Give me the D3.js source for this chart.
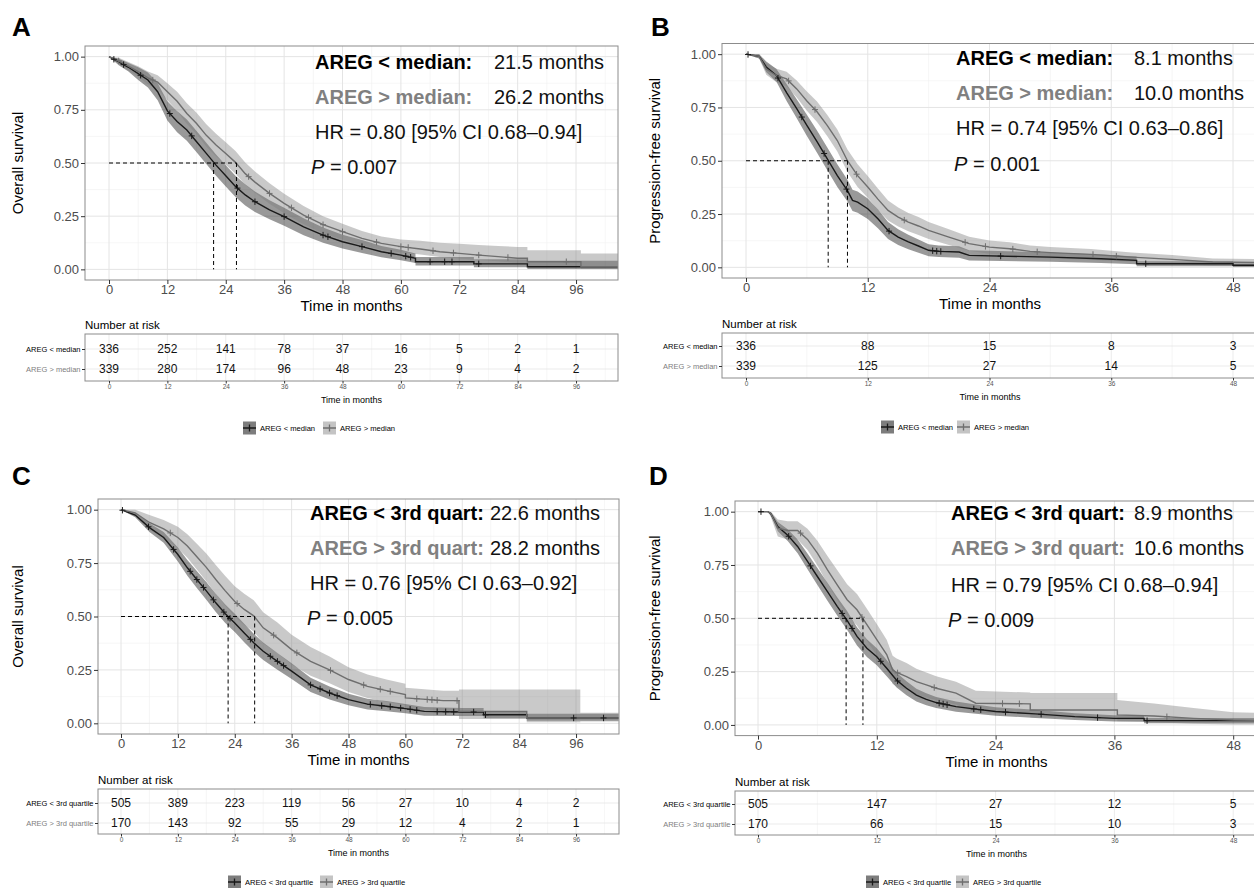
<!DOCTYPE html>
<html>
<head>
<meta charset="utf-8">
<script src="https://cdn.jsdelivr.net/npm/d3@7"></script>
<style>
  body { margin: 0; background: #fff; }
  svg text { font-family: "Liberation Sans", Arial, Helvetica, sans-serif; }
</style>
</head>
<body>
<svg id="fig" width="1254" height="888"></svg>
<script>
// ---- shared ticks / labels ----
const xTicksOS = [0, 12, 24, 36, 48, 60, 72, 84, 96];
const xTicksPFS = [0, 12, 24, 36, 48];
const yTicks = [0, 0.25, 0.5, 0.75, 1];
const legendMed = ['AREG < median', 'AREG > median'];
const legendQ3 = ['AREG < 3rd quartile', 'AREG > 3rd quartile'];

// ---- Panel A: overall survival, median split ----
const tA1  = [0, 2, 4, 6, 8, 10, 12, 14, 16, 18, 20, 22, 24, 26, 28, 30, 33, 36, 40, 44, 48, 52, 56, 60, 63, 63, 75, 75, 86, 86, 105];
const sA1  = [1, .975, .95, .92, .89, .835, .745, .695, .655, .60, .545, .49, .44, .39, .35, .318, .28, .248, .20, .161, .13, .107, .083, .067, .052, .036, .036, .026, .026, .0125, .0125];
const loA1 = [1, .96, .93, .89, .855, .795, .70, .645, .605, .55, .495, .44, .39, .34, .30, .27, .235, .205, .16, .125, .098, .077, .057, .043, .03, .018, .018, .01, .01, .002, .002];
const hiA1 = [1, .99, .97, .95, .925, .875, .79, .745, .705, .65, .595, .54, .49, .44, .40, .366, .325, .29, .24, .197, .163, .138, .11, .092, .075, .058, .058, .048, .048, .04, .04];
const cA1  = [1, 3, 6.5, 12.5, 17, 26.4, 30, 36, 44, 45, 52, 58, 61, 62, 66, 69, 70.5, 76];
const tA2  = [0, 2, 4, 6, 8, 10, 12, 14, 16, 18, 20, 22, 24, 26, 28, 30, 33, 36, 40, 44, 48, 52, 56, 60, 64, 68, 72, 76, 80, 84, 86, 86, 97, 97, 105];
const sA2  = [1, .98, .955, .93, .90, .88, .835, .79, .733, .686, .63, .585, .545, .503, .45, .41, .357, .31, .255, .21, .177, .146, .122, .107, .096, .083, .075, .067, .06, .052, .052, .036, .036, .012, .012];
const loA2 = [1, .965, .935, .905, .87, .847, .795, .745, .685, .636, .578, .532, .492, .45, .398, .36, .309, .264, .212, .17, .14, .113, .092, .079, .07, .058, .051, .044, .038, .031, .031, .015, .015, .002, .002];
const hiA2 = [1, .995, .975, .955, .93, .913, .875, .835, .781, .736, .682, .638, .598, .556, .502, .46, .405, .356, .298, .25, .214, .18, .155, .14, .135, .125, .12, .115, .11, .105, .105, .09, .09, .075, .075];
const cA2  = [2, 9, 28.7, 33, 37.5, 41, 44, 48, 55, 60, 61.5, 66.6, 70.8, 76, 82, 94];
const medA = [21.5, 26.2];
const riskA1 = [336, 252, 141, 78, 37, 16, 5, 2, 1];
const riskA2 = [339, 280, 174, 96, 48, 23, 9, 4, 2];

// ---- Panel B: progression-free survival, median split ----
const tB1  = [0, 1.3, 2, 3, 4, 5, 6, 7, 8, 9, 10, 10.5, 11, 12, 13, 14, 15, 16, 17, 18, 19, 21, 22, 30, 35, 38.5, 38.5, 48, 48, 52];
const sB1  = [1, .99, .94, .90, .82, .744, .666, .59, .51, .43, .36, .314, .306, .275, .228, .173, .142, .119, .10, .08, .075, .072, .056, .048, .04, .033, .017, .017, .01, .01];
const loB1 = [1, .98, .915, .87, .78, .699, .616, .538, .457, .377, .309, .264, .256, .227, .183, .133, .105, .085, .069, .052, .048, .045, .032, .026, .02, .015, .005, .005, .002, .002];
const hiB1 = [1, 1, .965, .93, .86, .789, .716, .642, .563, .483, .411, .364, .356, .323, .273, .213, .179, .153, .131, .108, .102, .099, .08, .07, .06, .051, .029, .029, .018, .018];
const cB1  = [0.2, 3.15, 5.5, 7.7, 9.9, 14.1, 18.4, 18.8, 19.2, 25.1, 39.4];
const tB2  = [0, 1.3, 2, 3, 4, 5, 6, 7, 8, 9, 10, 11, 12, 13, 14, 15, 16, 17, 18, 20, 22, 24, 26, 28, 30, 34, 38, 42, 46, 52];
const sB2  = [1, .99, .93, .90, .884, .837, .78, .73, .666, .595, .50, .43, .377, .32, .267, .236, .212, .194, .173, .142, .111, .095, .0875, .075, .069, .061, .048, .0375, .025, .022];
const loB2 = [1, .98, .903, .868, .85, .797, .735, .682, .616, .543, .447, .377, .326, .27, .22, .191, .169, .152, .133, .105, .078, .064, .0575, .047, .042, .036, .026, .0175, .008, .007];
const hiB2 = [1, 1, .957, .932, .918, .877, .825, .778, .716, .647, .553, .483, .428, .37, .314, .281, .255, .236, .213, .179, .144, .126, .1175, .103, .096, .086, .07, .0575, .042, .037];
const cB2  = [4.2, 6.8, 10.9, 15.6, 21.6, 23.6, 26.3, 28.7, 34.2, 36.5];
const medB = [8.1, 10.0];
const riskB1 = [336, 88, 15, 8, 3];
const riskB2 = [339, 125, 27, 14, 5];

// ---- Panel C: overall survival, 3rd quartile split ----
const tC1  = [0, 3, 6, 9, 12, 14, 16, 18, 20, 22, 24, 26, 28, 30, 33, 36, 40, 44, 48, 52, 56, 60, 64, 72, 76.5, 76.5, 85.6, 85.6, 105];
const sC1  = [1, .975, .916, .87, .79, .728, .673, .62, .564, .513, .47, .423, .377, .3375, .29, .244, .18, .142, .111, .09, .08, .069, .056, .053, .053, .04, .04, .025, .025];
const loC1 = [1, .965, .896, .845, .757, .691, .633, .578, .521, .47, .427, .38, .335, .2965, .251, .207, .147, .112, .084, .065, .056, .047, .036, .034, .034, .024, .024, .012, .012];
const hiC1 = [1, .985, .936, .895, .823, .765, .713, .662, .607, .556, .513, .466, .419, .3785, .329, .281, .213, .172, .138, .115, .104, .091, .076, .072, .072, .056, .056, .045, .045];
const cC1  = [0.3, 5.8, 11.1, 14.6, 16, 17.4, 19.5, 21.7, 23, 27.3, 31.5, 33, 34.3, 40, 42, 44, 45.6, 52.6, 55, 56.8, 59, 61, 62.4, 66.7, 68.5, 70.2, 74.4, 76.9, 95.5, 101.8];
const tC2  = [0, 3, 6, 9, 12, 14, 16, 18, 20, 22, 24, 26, 28, 30, 33, 36, 40, 44, 48, 52, 56, 60, 60, 68, 71.3, 71.3, 85.6, 85.6, 96.9, 96.9, 105];
const sC2  = [1, .985, .94, .91, .87, .83, .78, .73, .673, .62, .57, .533, .503, .447, .40, .345, .29, .25, .205, .173, .153, .135, .119, .106, .106, .056, .056, .025, .025, .025, .025];
const loC2 = [1, .97, .905, .868, .82, .775, .72, .665, .605, .55, .498, .46, .43, .374, .328, .275, .223, .187, .147, .118, .101, .085, .071, .06, .06, .02, .02, .005, .005, .008, .008];
const hiC2 = [1, 1, .975, .952, .92, .885, .84, .795, .741, .69, .642, .606, .576, .52, .472, .415, .357, .313, .263, .228, .205, .185, .167, .152, .152, .158, .158, .158, .158, .05, .05];
const cC2  = [10.4, 24.5, 32.2, 37.1, 44.2, 51.2, 54.7, 56.8, 62.4, 64.6, 65.6, 66.7, 70.9];
const medC = [22.6, 28.2];
const riskC1 = [505, 389, 223, 119, 56, 27, 10, 4, 2];
const riskC2 = [170, 143, 92, 55, 29, 12, 4, 2, 1];

// ---- Panel D: progression-free survival, 3rd quartile split ----
const tD1  = [0, 1, 1.3, 2, 3, 4, 5, 6, 7, 8, 9, 10, 11, 12, 13, 14, 15, 16, 17, 18, 20, 22, 24, 28, 32, 36, 39, 39, 52];
const sD1  = [1, 1, .99, .93, .89, .837, .767, .696, .626, .556, .49, .415, .36, .32, .266, .21, .172, .14, .12, .105, .086, .074, .063, .052, .039, .031, .031, .02, .02];
const loD1 = [1, 1, .982, .908, .863, .805, .73, .656, .584, .513, .446, .372, .318, .28, .228, .175, .139, .11, .092, .079, .062, .052, .043, .033, .023, .016, .016, .008, .008];
const hiD1 = [1, 1, .998, .952, .917, .869, .804, .736, .668, .599, .534, .458, .402, .36, .304, .245, .205, .17, .148, .131, .11, .096, .083, .071, .055, .046, .046, .032, .032];
const cD1  = [0.3, 3.1, 5.3, 8.5, 9.5, 12.4, 14.1, 18.3, 18.7, 19.1, 21.8, 22.5, 25, 28.6, 34.3, 39.3];
const tD2  = [0, 1, 1.3, 2, 3, 4, 5, 6, 7, 8, 9, 10, 11, 12, 13, 13.6, 14, 15, 16, 17, 18, 20, 22, 27.5, 27.5, 36.3, 36.3, 40, 44, 48, 52];
const sD2  = [1, 1, .99, .923, .912, .912, .87, .806, .728, .657, .587, .54, .47, .40, .33, .258, .246, .227, .203, .188, .172, .149, .102, .099, .07, .07, .047, .042, .031, .023, .02];
const loD2 = [1, 1, .975, .883, .869, .869, .82, .748, .663, .587, .514, .466, .395, .327, .26, .192, .181, .164, .143, .13, .116, .096, .057, .054, .035, .035, .017, .013, .006, .002, .002];
const hiD2 = [1, 1, 1, .963, .955, .955, .92, .864, .793, .727, .66, .614, .545, .473, .40, .324, .311, .29, .263, .246, .228, .202, .16, .152, .15, .15, .117, .1, .08, .06, .055];
const cD2  = [4.3, 10.5, 14.1, 17.8, 24.7, 26.4, 41.3];
const medD = [8.9, 10.6];
const riskD1 = [505, 147, 27, 12, 5];
const riskD2 = [170, 66, 15, 10, 3];

const fig = d3.select('#fig');
fig.append('rect').attr('width', 1254).attr('height', 888).attr('fill', '#fff');

const LINE = ['#1a1a1a', '#6e6e6e'];
const BAND = [{ fill: '#000', op: 0.4 }, { fill: '#7f7f7f', op: 0.42 }];
const KEY = ['#7d7d7d', '#c4c4c4'];

function survAt(t, s, c) {
  // value on the drawn polyline at time c
  const i = Math.max(0, d3.bisectRight(t, c) - 1);
  if (i >= t.length - 1 || t[i + 1] === t[i]) return s[i];
  const f = (c - t[i]) / (t[i + 1] - t[i]);
  return s[i] + f * (s[i + 1] - s[i]);
}

function drawPanel(p) {
  const g = fig.append('g');
  const x = d3.scaleLinear()
    .domain([(p.left - p.x0) / p.kx, (p.right - p.x0) / p.kx])
    .range([p.left, p.right]);
  const y = d3.scaleLinear().domain([-0.05, 1.05]).range([p.bottom, p.top]);
  const step = p.xTicks[1] - p.xTicks[0];
  const minorX = d3.range(step / 2, x.domain()[1], step);
  const minorY = [0.125, 0.375, 0.625, 0.875];

  g.append('text')
    .attr('x', p.letterX).attr('y', p.letterY)
    .attr('font-size', 26).attr('font-weight', 'bold')
    .text(p.letter);

  const clipId = 'clip' + p.letter;
  g.append('clipPath').attr('id', clipId)
    .append('rect')
      .attr('x', p.left).attr('y', p.top)
      .attr('width', p.right - p.left).attr('height', p.bottom - p.top);

  // grid
  const grid = g.append('g');
  grid.selectAll('.mx').data(minorX).join('line')
    .attr('x1', d => x(d)).attr('x2', d => x(d))
    .attr('y1', p.top).attr('y2', p.bottom)
    .attr('stroke', '#f0f0f0').attr('stroke-width', 0.6);
  grid.selectAll('.my').data(minorY).join('line')
    .attr('x1', p.left).attr('x2', p.right)
    .attr('y1', d => y(d)).attr('y2', d => y(d))
    .attr('stroke', '#f0f0f0').attr('stroke-width', 0.6);
  grid.selectAll('.Mx').data(p.xTicks).join('line')
    .attr('x1', d => x(d)).attr('x2', d => x(d))
    .attr('y1', p.top).attr('y2', p.bottom)
    .attr('stroke', '#e4e4e4').attr('stroke-width', 1);
  grid.selectAll('.My').data(yTicks).join('line')
    .attr('x1', p.left).attr('x2', p.right)
    .attr('y1', d => y(d)).attr('y2', d => y(d))
    .attr('stroke', '#e4e4e4').attr('stroke-width', 1);

  const plot = g.append('g').attr('clip-path', `url(#${clipId})`);
  const pts = p.groups.map(gr => gr.t.map((t, i) => ({ t, s: gr.s[i], lo: gr.lo[i], hi: gr.hi[i] })));

  const area = d3.area().x(d => x(d.t)).y0(d => y(d.lo)).y1(d => y(d.hi));
  const line = d3.line().x(d => x(d.t)).y(d => y(d.s));

  plot.selectAll('.band').data(pts).join('path')
    .attr('d', area)
    .attr('fill', (d, i) => BAND[i].fill)
    .attr('fill-opacity', (d, i) => BAND[i].op);

  plot.selectAll('.curve').data(pts).join('path')
    .attr('d', line)
    .attr('fill', 'none')
    .attr('stroke', (d, i) => LINE[i])
    .attr('stroke-width', 1.4);

  p.groups.forEach((gr, gi) => {
    plot.append('g').selectAll('path').data(gr.cens).join('path')
      .attr('d', c => {
        const cx = x(c), cy = y(survAt(gr.t, gr.s, c));
        return `M${cx - 3},${cy}H${cx + 3}M${cx},${cy - 3.2}V${cy + 3.2}`;
      })
      .attr('stroke', LINE[gi]).attr('stroke-width', 1);
  });

  // median lines
  const medMax = d3.max(p.medians);
  const dash = g.append('g').attr('stroke', '#000').attr('stroke-width', 1)
    .attr('stroke-dasharray', '4,3').attr('fill', 'none');
  dash.append('line')
    .attr('x1', x(0)).attr('x2', x(medMax))
    .attr('y1', y(0.5)).attr('y2', y(0.5));
  dash.selectAll('.v').data(p.medians).join('line')
    .attr('x1', d => x(d)).attr('x2', d => x(d))
    .attr('y1', y(0.5)).attr('y2', y(0));

  g.append('rect')
    .attr('x', p.left).attr('y', p.top)
    .attr('width', p.right - p.left).attr('height', p.bottom - p.top)
    .attr('fill', 'none').attr('stroke', '#8c8c8c').attr('stroke-width', 1);

  // axes
  const ax = g.append('g').attr('transform', `translate(0,${p.bottom})`)
    .call(d3.axisBottom(x).tickValues(p.xTicks).tickSize(4).tickPadding(1));
  const ay = g.append('g').attr('transform', `translate(${p.left},0)`)
    .call(d3.axisLeft(y).tickValues(yTicks).tickFormat(d3.format('.2f')).tickSize(4).tickPadding(2));
  [ax, ay].forEach(a => {
    a.select('.domain').remove();
    a.selectAll('line').attr('stroke', '#333');
    a.selectAll('text').attr('fill', '#4d4d4d').attr('font-size', 13)
      .style('font-family', '"Liberation Sans", Arial, sans-serif');
  });

  g.append('text')
    .attr('x', (p.left + p.right) / 2).attr('y', p.bottom + 31)
    .attr('text-anchor', 'middle').attr('font-size', 15)
    .text('Time in months');
  g.append('text')
    .attr('transform', `translate(${p.yTitleX},${(p.top + p.bottom) / 2}) rotate(-90)`)
    .attr('text-anchor', 'middle').attr('dy', '0.35em').attr('font-size', 15)
    .text(p.yTitle);

  // annotation
  const ann = g.append('g').attr('font-size', 20);
  p.annLabels.forEach((lab, i) => {
    ann.append('text')
      .attr('x', p.annX).attr('y', p.annY[i] + 7)
      .attr('font-weight', 'bold').attr('fill', i === 0 ? '#000' : '#808080')
      .text(lab);
    ann.append('text')
      .attr('x', p.valX).attr('y', p.annY[i] + 7)
      .attr('fill', '#111')
      .text(p.medians[i].toFixed(1) + ' months');
  });
  ann.append('text')
    .attr('x', p.annX).attr('y', p.annY[2] + 7).attr('fill', '#111')
    .text(p.hr);
  const pt = ann.append('text')
    .attr('x', p.pX).attr('y', p.annY[3] + 7).attr('fill', '#111');
  pt.append('tspan').attr('font-style', 'italic').text('P');
  pt.append('tspan').text(' = ' + p.pval);

  // number at risk table
  const tb = p.table;
  const ty = d3.scalePoint().domain(p.legend).range(tb.rows);
  g.append('text')
    .attr('x', p.left).attr('y', tb.top - 5)
    .attr('font-size', 11.5).text('Number at risk');
  const tg = g.append('g');
  tg.selectAll('.tmx').data(minorX).join('line')
    .attr('x1', d => x(d)).attr('x2', d => x(d))
    .attr('y1', tb.top).attr('y2', tb.bottom)
    .attr('stroke', '#f0f0f0').attr('stroke-width', 0.6);
  tg.selectAll('.tMx').data(p.xTicks).join('line')
    .attr('x1', d => x(d)).attr('x2', d => x(d))
    .attr('y1', tb.top).attr('y2', tb.bottom)
    .attr('stroke', '#e6e6e6').attr('stroke-width', 0.8);
  tg.selectAll('.tMy').data(p.legend).join('line')
    .attr('x1', p.left).attr('x2', p.right)
    .attr('y1', d => ty(d)).attr('y2', d => ty(d))
    .attr('stroke', '#e6e6e6').attr('stroke-width', 0.8);
  tg.append('rect')
    .attr('x', p.left).attr('y', tb.top)
    .attr('width', p.right - p.left).attr('height', tb.bottom - tb.top)
    .attr('fill', 'none').attr('stroke', '#8c8c8c').attr('stroke-width', 1);

  p.risk.forEach((row, ri) => {
    tg.append('g').selectAll('text').data(row).join('text')
      .attr('x', (d, i) => x(p.xTicks[i]))
      .attr('y', ty(p.legend[ri]) + 4.3)
      .attr('text-anchor', 'middle').attr('font-size', 12).attr('fill', '#111')
      .text(d => d);
  });

  const tax = tg.append('g').attr('transform', `translate(0,${tb.bottom})`)
    .call(d3.axisBottom(x).tickValues(p.xTicks).tickSize(2.5).tickPadding(1));
  const tay = tg.append('g').attr('transform', `translate(${p.left},0)`)
    .call(d3.axisLeft(ty).tickSize(3).tickPadding(1.5));
  [tax, tay].forEach(a => {
    a.select('.domain').remove();
    a.selectAll('line').attr('stroke', '#333');
    a.selectAll('text').style('font-family', '"Liberation Sans", Arial, sans-serif');
  });
  tax.selectAll('text').attr('font-size', 6.5).attr('fill', '#555');
  tay.selectAll('text').attr('font-size', 7.5)
    .attr('fill', (d, i) => i === 0 ? '#000' : '#808080');
  tg.append('text')
    .attr('x', (p.left + p.right) / 2).attr('y', tb.bottom + 21.5)
    .attr('text-anchor', 'middle').attr('font-size', 9)
    .text('Time in months');

  // legend
  const lg = g.append('g');
  p.legend.forEach((lab, i) => {
    const kx = tb.keys[i], ky = tb.legendY;
    lg.append('rect').attr('x', kx).attr('y', ky - 6.5).attr('width', 13).attr('height', 13)
      .attr('fill', KEY[i]);
    lg.append('path')
      .attr('d', `M${kx},${ky}H${kx + 13}M${kx + 6.5},${ky - 3.5}V${ky + 3.5}`)
      .attr('stroke', LINE[i]).attr('stroke-width', 1.3);
    lg.append('text').attr('x', kx + 17).attr('y', ky + 2.7)
      .attr('font-size', 7.6).text(lab);
  });
}

drawPanel({
  letter: 'A', letterX: 12, letterY: 36,
  left: 85, right: 618, top: 46, bottom: 280, x0: 109, kx: 4.865,
  xTicks: xTicksOS, yTitle: 'Overall survival', yTitleX: 18,
  groups: [
    { t: tA1, s: sA1, lo: loA1, hi: hiA1, cens: cA1 },
    { t: tA2, s: sA2, lo: loA2, hi: hiA2, cens: cA2 }
  ],
  medians: medA,
  annLabels: ['AREG < median:', 'AREG > median:'],
  hr: 'HR = 0.80 [95% CI 0.68\u20130.94]', pval: '0.007',
  annX: 315, valX: 494, pX: 311, annY: [62, 97, 132, 167],
  legend: legendMed, risk: [riskA1, riskA2],
  table: { top: 334, bottom: 381, rows: [349, 369], legendY: 428, keys: [243, 323] }
});

drawPanel({
  letter: 'B', letterX: 651, letterY: 36,
  left: 722, right: 1258, top: 43.5, bottom: 278, x0: 746, kx: 10.146,
  xTicks: xTicksPFS, yTitle: 'Progression-free survival', yTitleX: 655,
  groups: [
    { t: tB1, s: sB1, lo: loB1, hi: hiB1, cens: cB1 },
    { t: tB2, s: sB2, lo: loB2, hi: hiB2, cens: cB2 }
  ],
  medians: medB,
  annLabels: ['AREG < median:', 'AREG > median:'],
  hr: 'HR = 0.74 [95% CI 0.63\u20130.86]', pval: '0.001',
  annX: 956, valX: 1134, pX: 954, annY: [58, 93, 128, 164],
  legend: legendMed, risk: [riskB1, riskB2],
  table: { top: 333, bottom: 378, rows: [346, 366], legendY: 427, keys: [881, 957] }
});

drawPanel({
  letter: 'C', letterX: 12, letterY: 485,
  left: 98, right: 619, top: 499, bottom: 734, x0: 121, kx: 4.74,
  xTicks: xTicksOS, yTitle: 'Overall survival', yTitleX: 18,
  groups: [
    { t: tC1, s: sC1, lo: loC1, hi: hiC1, cens: cC1 },
    { t: tC2, s: sC2, lo: loC2, hi: hiC2, cens: cC2 }
  ],
  medians: medC,
  annLabels: ['AREG < 3rd quart:', 'AREG > 3rd quart:'],
  hr: 'HR = 0.76 [95% CI 0.63\u20130.92]', pval: '0.005',
  annX: 310, valX: 490, pX: 307, annY: [513, 548, 583, 618],
  legend: legendQ3, risk: [riskC1, riskC2],
  table: { top: 789, bottom: 834, rows: [803, 823], legendY: 882, keys: [228, 320] }
});

drawPanel({
  letter: 'D', letterX: 649, letterY: 485,
  left: 735, right: 1258, top: 501, bottom: 735.6, x0: 758, kx: 9.9,
  xTicks: xTicksPFS, yTitle: 'Progression-free survival', yTitleX: 655,
  groups: [
    { t: tD1, s: sD1, lo: loD1, hi: hiD1, cens: cD1 },
    { t: tD2, s: sD2, lo: loD2, hi: hiD2, cens: cD2 }
  ],
  medians: medD,
  annLabels: ['AREG < 3rd quart:', 'AREG > 3rd quart:'],
  hr: 'HR = 0.79 [95% CI 0.68\u20130.94]', pval: '0.009',
  annX: 951, valX: 1134, pX: 948, annY: [513, 548, 585, 620],
  legend: legendQ3, risk: [riskD1, riskD2],
  table: { top: 791, bottom: 835, rows: [804, 824], legendY: 882, keys: [866, 956] }
});
</script>
</body>
</html>
